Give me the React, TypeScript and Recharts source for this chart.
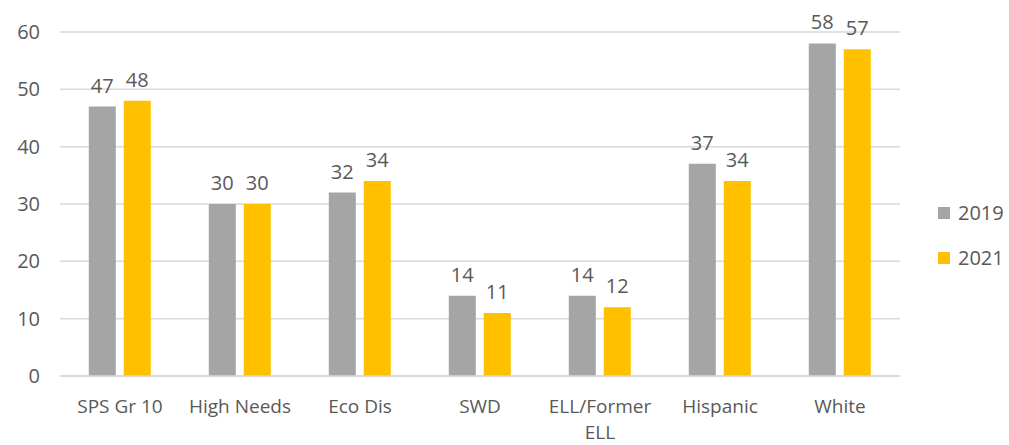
import { BarChart, Bar, XAxis, YAxis, CartesianGrid, Legend, LabelList } from "recharts";

const categories = ["SPS Gr 10", "High Needs", "Eco Dis", "SWD", "ELL/Former ELL", "Hispanic", "White"];
const values2019 = [47, 30, 32, 14, 14, 37, 58];
const values2021 = [48, 30, 34, 11, 12, 34, 57];
const yTicks = [0, 10, 20, 30, 40, 50, 60];

const data = categories.map((name, i) => ({
  name,
  y2019: values2019[i],
  y2021: values2021[i],
}));

const FONT = "'Open Sans', sans-serif";
const TEXT = "#595959";
const GRID = "#d9d9d9";

// break long category names into lines (Excel-style wrapping)
function wrapLabel(label: string, maxChars = 11): string[] {
  const words = label.split(" ");
  const lines: string[] = [];
  let cur = "";
  for (const w of words) {
    const next = cur ? cur + " " + w : w;
    if (next.length > maxChars && cur) {
      lines.push(cur);
      cur = w;
    } else {
      cur = next;
    }
  }
  if (cur) lines.push(cur);
  return lines;
}

const CategoryTick = ({ x, y, payload }: any) => {
  const lines = wrapLabel(payload.value);
  return (
    <text x={x} y={y} textAnchor="middle" fill={TEXT} fontSize={19} fontFamily={FONT}>
      {lines.map((l, i) => (
        <tspan key={i} x={x} dy={i === 0 ? 37 : 26}>
          {l}
        </tspan>
      ))}
    </text>
  );
};

const LegendContent = ({ payload }: any) => (
  <div style={{ fontFamily: FONT, fontSize: 20, color: TEXT }}>
    {(payload || []).map((p: any) => (
      <div key={p.value} style={{ display: "flex", alignItems: "center", height: 45 }}>
        <span style={{ width: 12, height: 12, background: p.color, marginRight: 8, display: "inline-block" }} />
        {p.value}
      </div>
    ))}
  </div>
);

export default function App() {
  return (
    <div style={{ position: "absolute", left: 0, top: 0, background: "#fff", width: 1009, height: 445 }}>
      <BarChart
        width={1009}
        height={445}
        data={data}
        margin={{ top: 32, right: 109, bottom: 9, left: 0 }}
        barGap={8}
        barCategoryGap="24%"
      >
        <CartesianGrid vertical={false} stroke={GRID} strokeWidth={1.5} />
        <XAxis
          dataKey="name"
          height={60}
          tickSize={0}
          tickMargin={0}
          axisLine={{ stroke: GRID, strokeWidth: 1.5 }}
          tickLine={false}
          interval={0}
          tick={<CategoryTick />}
        />
        <YAxis
          width={60}
          domain={[0, 60]}
          ticks={yTicks}
          axisLine={false}
          tickLine={false}
          tickSize={0}
          tickMargin={20}
          tick={{ fill: TEXT, fontSize: 20, fontFamily: FONT }}
        />
        <Legend
          layout="horizontal"
          align="center"
          verticalAlign="middle"
          content={<LegendContent />}
          wrapperStyle={{ position: "absolute", left: 938, top: 190, width: 70 }}
        />
        <Bar dataKey="y2019" name="2019" fill="#a5a5a5" isAnimationActive={false}>
          <LabelList dataKey="y2019" position="top" offset={14} fill={TEXT} fontSize={20} fontFamily={FONT} />
        </Bar>
        <Bar dataKey="y2021" name="2021" fill="#ffc000" isAnimationActive={false}>
          <LabelList dataKey="y2021" position="top" offset={14} fill={TEXT} fontSize={20} fontFamily={FONT} />
        </Bar>
      </BarChart>
    </div>
  );
}
